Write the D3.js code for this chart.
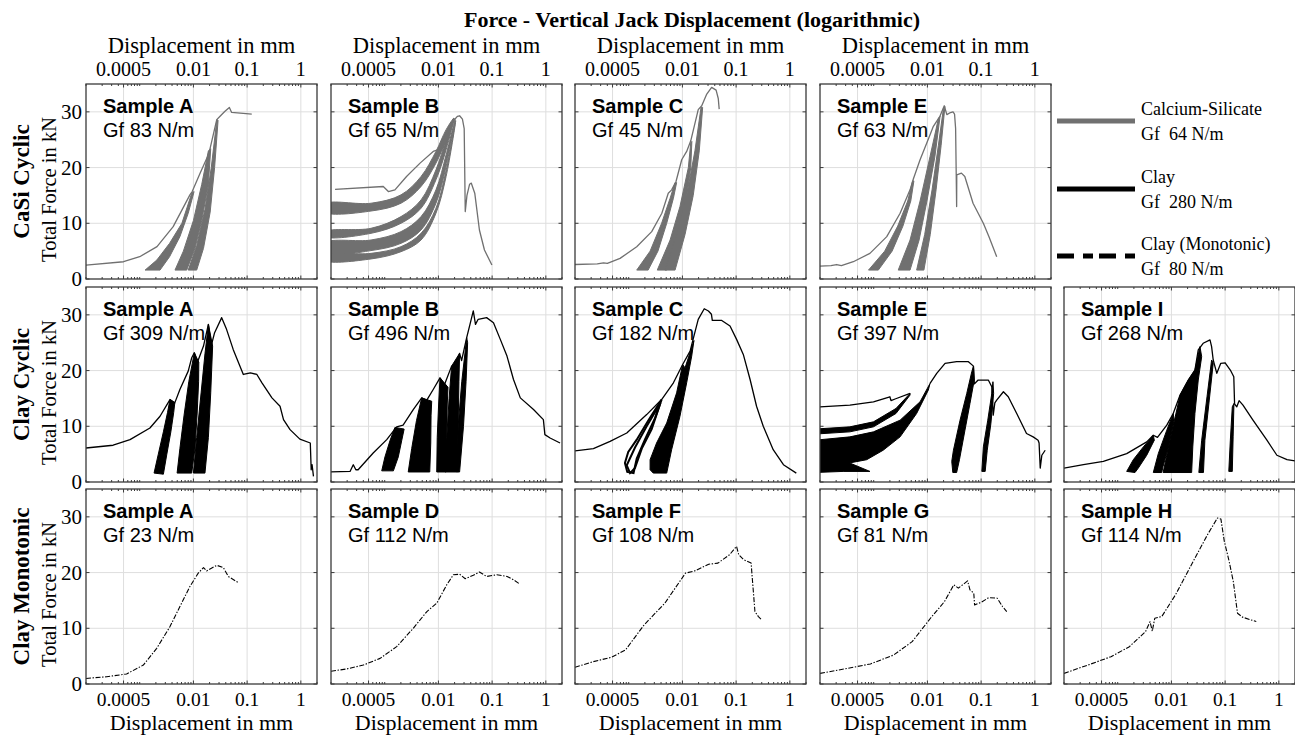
<!DOCTYPE html>
<html><head><meta charset="utf-8">
<script src="https://cdn.jsdelivr.net/npm/d3@7"></script>
<style>body{margin:0;background:#fff}svg{display:block}</style>
</head><body>
<svg id="c" width="1295" height="737"></svg>
<script>
// ---------- labels & ticks ----------
const title = "Force - Vertical Jack Displacement (logarithmic)";
const xTickValues = [0.0005, 0.01, 0.1, 1];
const xTickLabels = ["0.0005", "0.01", "0.1", "1"];
const yTickValues = [0, 10, 20, 30];
const rowLabels = ["CaSi Cyclic", "Clay Cyclic", "Clay Monotonic"];
const legendNames = ["Calcium-Silicate", "Clay", "Clay (Monotonic)"];
const legendGf = ["Gf  64 N/m", "Gf  280 N/m", "Gf  80 N/m"];

// ---------- CaSi cyclic ----------
const casiA_env = [[1e-4,2.5],[5e-4,3.1],[1e-3,4.0],[2.1e-3,5.8],[4.2e-3,9.4],[8.6e-3,15.1],[9.5e-3,15.7],[0.0133,19],[0.019,22.3],[0.0205,23.5],[0.0272,28.6],[0.032,29.3],[0.0387,30.1],[0.0467,30.8],[0.0515,29.9],[0.122,29.6]];
const casiA_bands = [
 [[0.00126,1.6],[0.00208,3.4],[0.0036,6.4],[0.0061,10],[0.0093,15.4],[0.0103,15.7],[0.008,11.8],[0.0056,7.6],[0.0036,4.0],[0.00239,1.6]],
 [[0.00454,1.6],[0.0065,5],[0.01,10.5],[0.0143,17],[0.019,23],[0.021,23.4],[0.019,17],[0.0143,10.5],[0.0107,5.5],[0.0075,1.6]],
 [[0.008,1.6],[0.0115,6],[0.0164,12.5],[0.0215,20],[0.0273,28.6],[0.0288,28.5],[0.0248,20],[0.0205,12],[0.0154,5.5],[0.0115,1.6]]
];
const casiB_env = [[1.19e-4,16.1],[9.4e-4,16.6],[1.17e-3,15.7],[1.55e-3,16],[2.55e-3,18.4],[4.55e-3,20.8],[8e-3,22.9],[0.01,23.2],[0.0107,22.7],[0.015,25.5],[0.0195,28.5],[0.0225,29.2],[0.0248,29.3],[0.028,28.7],[0.0302,27],[0.0316,12.1],[0.034,15],[0.038,17],[0.041,17.2],[0.0475,15.4],[0.058,8.8],[0.072,5.2],[0.099,2.5]];
const casiB_bands = [
 [[8e-5,12.0],[5.56e-4,12.2],[2.01e-3,13.6],[4.75e-3,16.6],[9.0e-3,20.8],[0.0139,25.0],[0.0195,28.9],[0.0139,26.8],[9.0e-3,22.9],[4.75e-3,18.4],[2.01e-3,15.1],[5.56e-4,13.6],[8e-5,13.5]],
 [[8e-5,7.6],[5.56e-4,8.2],[2.01e-3,10],[4.75e-3,12.7],[9.0e-3,17.8],[0.0139,23.2],[0.0195,28.8],[0.0139,25],[9.0e-3,19.6],[4.75e-3,14.2],[2.01e-3,11.2],[5.56e-4,9.1],[8e-5,8.5]],
 [[8e-5,4.6],[5.56e-4,5.1],[2.01e-3,6.4],[4.75e-3,8.8],[9.0e-3,13.6],[0.0139,20.2],[0.0205,28.6],[0.0139,22.3],[9.0e-3,16],[4.75e-3,11.2],[2.01e-3,8.5],[5.56e-4,7.0],[8e-5,6.5]],
 [[8e-5,3.3],[5.56e-4,3.6],[2.01e-3,4.9],[4.75e-3,7],[9.0e-3,11.8],[0.0139,18.4],[0.021,28.4],[0.0139,19.5],[9.0e-3,12.7],[4.75e-3,8.2],[2.01e-3,5.8],[5.56e-4,4.6],[8e-5,4.3]]
];
const casiC_env = [[1e-4,2.6],[2.6e-4,2.7],[3.4e-4,2.9],[4.0e-4,2.8],[6.9e-4,3.7],[1.41e-3,5.8],[2.68e-3,8.5],[4.14e-3,11.8],[5.45e-3,15.4],[6.3e-3,16],[7.6e-3,17.5],[9.7e-3,21.4],[0.012,22.9],[0.0143,24.8],[0.0197,30.4],[0.0229,31.1],[0.0284,33.2],[0.035,34.4],[0.0424,33.9],[0.0465,32.4],[0.0484,30.5]];
const casiC_bands = [
 [[1.41e-3,1.6],[2.5e-3,5],[4.1e-3,10],[5.9e-3,14.5],[7.3e-3,17.3],[7.8e-3,17.3],[6.8e-3,14.5],[5.1e-3,10],[3.5e-3,5],[2.3e-3,1.6]],
 [[3.4e-3,1.6],[5.9e-3,7],[9e-3,13],[0.0129,20],[0.0143,24.5],[0.015,24.7],[0.0143,20],[0.0112,13],[7.8e-3,7],[5.1e-3,1.6]],
 [[4.75e-3,1.6],[7.8e-3,8],[0.012,15],[0.0171,23],[0.0222,30.8],[0.0238,30.8],[0.0206,23],[0.0159,15],[0.0112,8],[7.3e-3,1.6]]
];
const casiE_env = [[1e-4,2.3],[1.6e-4,2.4],[2.04e-4,2.6],[2.5e-4,2.4],[4.17e-4,3.1],[8.5e-4,4.6],[1.75e-3,7.6],[3.1e-3,11.8],[4.75e-3,16],[5.45e-3,17.9],[7.3e-3,21.4],[0.0112,25.9],[0.0129,27.4],[0.0171,29.2],[0.0206,31.1],[0.023,29.5],[0.026,29.8],[0.030,30.0],[0.032,29.6],[0.0335,27],[0.035,13],[0.0352,18.7],[0.043,19],[0.0497,18.4],[0.0707,13.6],[0.11,10],[0.14,7.6],[0.195,4]];
const casiE_bands = [
 [[8.0e-4,1.6],[1.6e-3,5],[2.8e-3,9.5],[4.3e-3,14],[5.3e-3,17.6],[5.6e-3,17.6],[4.9e-3,14],[3.5e-3,9.5],[2.2e-3,5],[1.22e-3,1.6]],
 [[2.86e-3,1.6],[4.75e-3,7],[7.3e-3,14],[0.0112,22],[0.016,28.8],[0.0172,29.2],[0.0138,22],[9.8e-3,14],[7.0e-3,7],[4.75e-3,1.6]],
 [[6.3e-3,1.6],[8.9e-3,8],[0.0122,16],[0.016,24],[0.02,30.8],[0.0212,31],[0.018,24],[0.0145,16],[0.0113,8],[8.6e-3,1.6]]
];

// ---------- Clay cyclic ----------
const clayA_env = [[1e-4,6.1],[3.2e-4,6.6],[6.6e-4,7.6],[1.55e-3,9.7],[2.39e-3,11.8],[3.66e-3,14.8],[4.5e-3,14.2],[5.6e-3,16.6],[8e-3,19.9],[9.3e-3,22.3],[0.0104,23.2],[0.0118,21.4],[0.0154,24.4],[0.019,28.3],[0.0215,24.5],[0.0248,26.8],[0.0336,29.5],[0.0414,27.4],[0.055,23.8],[0.0733,20.8],[0.085,19.3],[0.115,19.6],[0.152,19.3],[0.189,17.8],[0.29,15.1],[0.41,13.6],[0.476,11.2],[0.63,9.4],[0.96,7.7],[1.5,7.0],[1.56,2.2],[1.62,3.1],[1.72,1.0]];
const clayA_bands = [
 [[1.85e-3,1.6],[2.22e-3,5],[2.76e-3,9],[3.3e-3,12.5],[3.66e-3,14.8],[4.5e-3,14.2],[4.3e-3,12.5],[3.8e-3,9],[3.2e-3,5],[2.76e-3,1.4]],
 [[4.97e-3,1.6],[5.6e-3,6],[6.7e-3,12],[8.2e-3,18],[0.0104,23.2],[0.0126,21.5],[0.0125,18],[0.0117,12],[0.0107,6],[9.3e-3,1.6]],
 [[0.01,1.6],[0.0115,8],[0.0139,16],[0.0164,23],[0.019,28.3],[0.0228,24.4],[0.021,16],[0.019,8],[0.0164,1.6]]
];
const clayB_env = [[1e-4,1.8],[2.26e-4,1.9],[2.6e-4,3.1],[2.9e-4,2.2],[3.2e-4,2.2],[6.1e-4,5.2],[1.09e-3,7.6],[1.67e-3,9.9],[2.2e-3,10.2],[3.4e-3,13],[4.88e-3,15.1],[6.0e-3,14.6],[8e-3,16.6],[0.0107,18.7],[0.013,17.5],[0.0176,20.8],[0.02,20],[0.0248,23.1],[0.027,21.8],[0.0336,25.9],[0.0387,28.3],[0.0446,30.7],[0.049,28.3],[0.055,29.2],[0.079,29.5],[0.106,28.6],[0.142,25.6],[0.189,22.6],[0.25,18.4],[0.335,15.1],[0.59,13],[0.9,11.2],[0.96,8.5],[1.2,7.9],[1.84,7.0]];
const clayB_bands = [
 [[8.8e-4,2.0],[1.01e-3,4.5],[1.26e-3,7.5],[1.55e-3,9.8],[2.3e-3,9.5],[2.08e-3,7.5],[1.79e-3,4.5],[1.45e-3,2.0]],
 [[2.74e-3,1.8],[3.18e-3,6],[3.9e-3,11],[4.88e-3,15.1],[7.5e-3,14.5],[7.3e-3,12],[7.2e-3,7],[6.9e-3,1.8]],
 [[9.3e-3,1.8],[9.5e-3,8],[0.0101,14],[0.0107,18.7],[0.0151,17],[0.0146,14],[0.0143,8],[0.0139,1.8]],
 [[0.0134,1.8],[0.0143,8],[0.0158,15],[0.0176,20.8],[0.0248,23.1],[0.0241,18],[0.0233,10],[0.0224,1.8]],
 [[0.022,1.8],[0.0233,10],[0.0272,18],[0.0336,25.9],[0.035,25],[0.0327,18],[0.0293,10],[0.0248,1.8]]
];
const clayC_env = [[1e-4,5.6],[2.2e-4,6.0],[4.5e-4,7.3],[9.2e-4,8.8],[2.16e-3,12.1],[4.1e-3,14.8],[6.8e-3,17.8],[0.0101,21.1],[0.0139,23.5],[0.0158,25.6],[0.0197,29.2],[0.0255,31.1],[0.0305,30.7],[0.0347,30.1],[0.036,29],[0.054,29],[0.077,28],[0.102,25.6],[0.136,22.9],[0.182,18.4],[0.24,13.6],[0.32,10],[0.49,5.8],[0.76,3.1],[1.32,1.6]];
const clayC_loops = [
 [[8.5e-4,3.4],[9.8e-4,5.4],[1.41e-3,7.6],[2.3e-3,11],[4.1e-3,14.8],[3.1e-3,11.5],[2.0e-3,7.6],[1.41e-3,4.2],[1.23e-3,1.6],[9.4e-4,1.8]],
 [[9.2e-4,3.0],[1.31e-3,6.2],[2.16e-3,10],[3.9e-3,14.2],[2.68e-3,9.5],[1.75e-3,6],[1.31e-3,2.5],[1.06e-3,1.6]]
];
const clayC_bands = [
 [[2.5e-3,4],[2.5e-3,2.2],[2.86e-3,1.6],[5.1e-3,1.6],[6.3e-3,5.8],[9.0e-3,11.8],[0.012,17.8],[0.0149,22.6],[0.0164,25.4],[0.0112,20.5],[0.0101,21.1],[7.8e-3,16],[5.1e-3,10.6],[3.3e-3,7]]
];
const clayE_env = [[1e-4,13.5],[3.6e-4,13.8],[9.9e-4,14.4],[2.0e-3,15.3],[2.1e-3,14.6],[2.5e-3,14.9],[4.75e-3,15.9]];
const clayE_env2 = [[0.0112,17.7],[0.0149,19.5],[0.0213,21.3],[0.035,21.6],[0.058,21.6],[0.072,20.8],[0.0745,17.6],[0.088,18.3],[0.136,18.3],[0.158,17.1],[0.168,12],[0.18,14.2],[0.195,14.7],[0.26,16.2],[0.32,15.3],[0.46,12.3],[0.7,8.7],[0.93,8.1],[1.15,7.5],[1.2,7],[1.26,2.5],[1.35,4.8],[1.56,5.7]];
const clayE_bands = [
 [[8e-5,8.6],[3.6e-4,9.0],[9.9e-4,9.9],[2.6e-3,12.3],[4.75e-3,15.6],[4.75e-3,15.9],[2.6e-3,13.2],[9.9e-4,10.8],[3.6e-4,9.9],[8e-5,9.5]],
 [[8e-5,7.5],[3.6e-4,8.1],[9.9e-4,9.0],[3.1e-3,11.1],[7.3e-3,14.4],[0.0112,17.7],[0.0104,16.5],[6.3e-3,12.3],[3.1e-3,8.1],[1.5e-3,5.7],[7.4e-4,4.0],[2.36e-4,3.1],[8e-5,2.8]],
 [[8e-5,3.6],[3.6e-4,3.4],[8.5e-4,1.9],[2.7e-4,1.9],[8e-5,1.7]],
 [[0.0297,1.7],[0.0284,3.7],[0.0305,5.7],[0.0405,11.1],[0.054,15.9],[0.067,19.8],[0.072,20.8],[0.0745,18.3],[0.062,14.1],[0.05,9.3],[0.0395,4.0],[0.035,1.7]],
 [[0.103,1.9],[0.11,6.3],[0.133,11.1],[0.158,15.9],[0.166,18],[0.171,15.9],[0.152,10.5],[0.13,5.7],[0.119,1.9]]
];
const clayI_env = [[1e-4,2.5],[2.3e-4,3.1],[5.4e-4,3.7],[1.47e-3,5.1],[3.47e-3,7.2],[4.6e-3,8.4],[5.5e-3,8.0],[8.2e-3,10.2],[0.0108,12.3],[0.0145,15.6],[0.0206,18.3],[0.0274,20.1],[0.0316,23.7],[0.039,24.9],[0.0523,25.5],[0.056,24.3],[0.06,21.9],[0.07,19.5],[0.083,21.3],[0.1,21.4],[0.125,20.1],[0.145,18.9],[0.15,14],[0.165,13.5],[0.182,14.6],[0.215,13.8],[0.33,11.1],[0.6,7.5],[0.92,4.8],[1.42,4.0],[2,3.8]];
const clayI_bands = [
 [[1.47e-3,1.9],[1.95e-3,4.0],[3.0e-3,6.3],[4.6e-3,8.4],[4.8e-3,7.5],[3.47e-3,4.8],[2.42e-3,2.5],[2.1e-3,1.7]],
 [[4.6e-3,1.7],[5.7e-3,5.1],[8.2e-3,9.3],[0.0108,12.3],[0.0112,11.1],[8.8e-3,6.3],[7.0e-3,2.8],[6.6e-3,1.7]],
 [[7.0e-3,1.7],[9.4e-3,7.5],[0.0145,15.6],[0.0206,18.3],[0.0274,20.1],[0.034,24.3],[0.0366,22.5],[0.0316,18.3],[0.0274,12.3],[0.025,6.3],[0.0238,1.7]],
 [[0.0324,1.7],[0.0366,7.5],[0.046,15.3],[0.056,21.9],[0.06,21.3],[0.0507,14.7],[0.042,7.5],[0.0395,1.7]],
 [[0.117,1.9],[0.125,7.5],[0.136,13.5],[0.146,14.1],[0.141,8.1],[0.136,1.9]]
];

// ---------- Clay monotonic ----------
const monoA = [[1e-4,1.0],[2.43e-4,1.3],[5.7e-4,1.8],[1.17e-3,3.4],[2.07e-3,6.4],[3.66e-3,10.3],[5.6e-3,13.9],[8.6e-3,17.5],[0.0123,19.9],[0.0154,20.9],[0.0176,20.3],[0.0273,21.3],[0.036,20.9],[0.0446,19.3],[0.0686,18.2]];
const monoD = [[1e-4,2.3],[1.96e-4,2.7],[4.0e-4,3.4],[8.2e-4,4.6],[1.67e-3,6.7],[3.4e-3,10.0],[6.1e-3,13.0],[9.3e-3,14.5],[0.0143,17.8],[0.019,19.6],[0.0248,19.7],[0.0316,18.9],[0.0446,19.5],[0.058,20.1],[0.079,19.3],[0.122,19.6],[0.19,19.3],[0.25,18.7],[0.32,18.0]];
const monoF = [[1.0e-4,3.0],[2.17e-4,4.0],[4.8e-4,4.8],[8.7e-4,6.1],[1.93e-3,10.6],[4.7e-3,14.5],[0.0114,19.9],[0.017,20.3],[0.0309,21.5],[0.0459,21.7],[0.0755,23.2],[0.1017,24.7],[0.112,23.2],[0.138,22.3],[0.19,21.7],[0.224,13.0],[0.26,12.1],[0.3,11.5]];
const monoG = [[1e-4,1.9],[3.24e-4,2.8],[8.7e-4,3.6],[2.35e-3,5.2],[5.2e-3,7.6],[0.0114,11.8],[0.0208,14.8],[0.031,17.8],[0.0377,17.2],[0.056,18.5],[0.062,16.9],[0.073,16.3],[0.0755,14.2],[0.102,14.7],[0.138,15.5],[0.2,15.4],[0.25,13.9],[0.3,13.0]];
const monoH = [[1.0e-4,1.9],[2.78e-4,3.4],[7.5e-4,4.9],[1.65e-3,6.7],[3.3e-3,9.4],[4.0e-3,11.2],[4.4e-3,9.5],[4.9e-3,11.8],[6.6e-3,12.1],[0.0119,16.0],[0.0264,22.3],[0.047,26.8],[0.072,29.8],[0.0835,29.6],[0.0966,25.6],[0.117,22.3],[0.142,18.4],[0.17,12.7],[0.21,12.0],[0.38,11.2]];

// ---------- panel table ----------
const panels = [
 {row:0,col:0,name:"Sample A",gf:"Gf 83 N/m",kind:"casi",lines:[casiA_env],bands:casiA_bands},
 {row:0,col:1,name:"Sample B",gf:"Gf 65 N/m",kind:"casi",lines:[casiB_env],bands:casiB_bands,smooth:true},
 {row:0,col:2,name:"Sample C",gf:"Gf 45 N/m",kind:"casi",lines:[casiC_env],bands:casiC_bands},
 {row:0,col:3,name:"Sample E",gf:"Gf 63 N/m",kind:"casi",lines:[casiE_env],bands:casiE_bands},
 {row:1,col:0,name:"Sample A",gf:"Gf 309 N/m",kind:"clay",lines:[clayA_env],bands:clayA_bands},
 {row:1,col:1,name:"Sample B",gf:"Gf 496 N/m",kind:"clay",lines:[clayB_env],bands:clayB_bands},
 {row:1,col:2,name:"Sample C",gf:"Gf 182 N/m",kind:"clay",lines:[clayC_env],bands:clayC_bands,loops:clayC_loops},
 {row:1,col:3,name:"Sample E",gf:"Gf 397 N/m",kind:"clay",lines:[clayE_env,clayE_env2],bands:clayE_bands},
 {row:1,col:4,name:"Sample I",gf:"Gf 268 N/m",kind:"clay",lines:[clayI_env],bands:clayI_bands},
 {row:2,col:0,name:"Sample A",gf:"Gf 23 N/m",kind:"mono",lines:[monoA],bands:[]},
 {row:2,col:1,name:"Sample D",gf:"Gf 112 N/m",kind:"mono",lines:[monoD],bands:[]},
 {row:2,col:2,name:"Sample F",gf:"Gf 108 N/m",kind:"mono",lines:[monoF],bands:[]},
 {row:2,col:3,name:"Sample G",gf:"Gf 81 N/m",kind:"mono",lines:[monoG],bands:[]},
 {row:2,col:4,name:"Sample H",gf:"Gf 114 N/m",kind:"mono",lines:[monoH],bands:[]}
];

// ---------- layout ----------
const colLeft = [86, 331, 575, 820, 1064];
const rowTop = [84, 287, 489];
const PW = 231, PH = 195;
const GREY = "#707070";
const SERIF = "'Liberation Serif','Times New Roman',serif";
const SANS = "'Liberation Sans',Arial,sans-serif";
const DASH = "5,1.6,1.4,1.6";

const svg = d3.select("#c");
const x = d3.scaleLog().domain([1e-4, 2]).range([0, PW]);
const y = d3.scaleLinear().domain([0, 35]).range([PH, 0]);
const line = d3.line().x(d => x(d[0])).y(d => y(d[1]));
const smoothLine = d3.line().x(d => x(d[0])).y(d => y(d[1])).curve(d3.curveCatmullRomClosed.alpha(0.5));
const minorX = x.ticks().filter(v => !xTickValues.some(t => Math.abs(t - v) / t < 1e-6));

svg.append("text").attr("x", 692).attr("y", 27).attr("text-anchor", "middle")
  .attr("font-family", SERIF).attr("font-weight", "bold").attr("font-size", 22).text(title);

panels.forEach((p, i) => {
  const g = svg.append("g").attr("transform", `translate(${colLeft[p.col]},${rowTop[p.row]})`);
  const cid = "clip" + i;
  g.append("clipPath").attr("id", cid).append("rect").attr("width", PW).attr("height", PH);
  // grid
  g.selectAll(".gx").data(xTickValues).join("line").attr("x1", d => x(d)).attr("x2", d => x(d))
    .attr("y1", 0).attr("y2", PH).attr("stroke", "#dedede").attr("stroke-width", 1);
  g.selectAll(".gy").data(yTickValues.slice(1)).join("line").attr("x1", 0).attr("x2", PW)
    .attr("y1", d => y(d)).attr("y2", d => y(d)).attr("stroke", "#dedede").attr("stroke-width", 1);
  const col = p.kind === "casi" ? GREY : "#000";
  const data = g.append("g").attr("clip-path", `url(#${cid})`);
  data.selectAll(".band").data(p.bands).join("path").attr("d", d => p.smooth ? smoothLine(d) : line(d) + "Z")
    .attr("fill", col).attr("stroke", col).attr("stroke-width", 1).attr("stroke-linejoin", "round");
  if (p.loops) data.selectAll(".loop").data(p.loops).join("path").attr("d", d => line(d) + "Z")
    .attr("fill", "none").attr("stroke", "#000").attr("stroke-width", 2);
  data.selectAll(".ln").data(p.lines).join("path").attr("d", line).attr("fill", "none")
    .attr("stroke", col).attr("stroke-width", p.kind === "mono" ? 1.1 : 1.3)
    .attr("stroke-dasharray", p.kind === "mono" ? DASH : null).attr("stroke-linejoin", "round");
  // frame & ticks
  g.append("rect").attr("width", PW).attr("height", PH).attr("fill", "none").attr("stroke", "#3a3a3a").attr("stroke-width", 1.3);
  const tk = g.append("g").attr("stroke", "#3a3a3a").attr("stroke-width", 1);
  xTickValues.forEach(v => {
    tk.append("line").attr("x1", x(v)).attr("x2", x(v)).attr("y1", 0).attr("y2", 3.5);
    tk.append("line").attr("x1", x(v)).attr("x2", x(v)).attr("y1", PH).attr("y2", PH - 3.5);
  });
  minorX.forEach(v => {
    tk.append("line").attr("x1", x(v)).attr("x2", x(v)).attr("y1", 0).attr("y2", 2);
    tk.append("line").attr("x1", x(v)).attr("x2", x(v)).attr("y1", PH).attr("y2", PH - 2);
  });
  yTickValues.forEach(v => {
    tk.append("line").attr("x1", 0).attr("x2", 3.5).attr("y1", y(v)).attr("y2", y(v));
    tk.append("line").attr("x1", PW).attr("x2", PW - 3.5).attr("y1", y(v)).attr("y2", y(v));
  });
  // sample text
  g.append("text").attr("x", 17).attr("y", 29).attr("font-family", SANS).attr("font-weight", "bold")
    .attr("font-size", 20).text(p.name);
  g.append("text").attr("x", 17).attr("y", 53).attr("font-family", SANS).attr("font-size", 20).text(p.gf);
  // y tick labels
  if (p.col === 0) {
    g.selectAll(".yl").data(yTickValues).join("text").attr("x", -4).attr("y", d => y(d) + 7)
      .attr("text-anchor", "end").attr("font-family", SERIF).attr("font-size", 21).text(d => d);
  }
  // top axis labels
  if (p.row === 0) {
    g.selectAll(".xl").data(xTickValues).join("text").attr("x", d => x(d)).attr("y", -8)
      .attr("text-anchor", "middle").attr("font-family", SERIF).attr("font-size", 20).text((d, j) => xTickLabels[j]);
    g.append("text").attr("x", PW / 2).attr("y", -31).attr("text-anchor", "middle")
      .attr("font-family", SERIF).attr("font-size", 22.5).text("Displacement in mm");
  }
  if (p.row === 2) {
    g.selectAll(".xl").data(xTickValues).join("text").attr("x", d => x(d)).attr("y", PH + 22)
      .attr("text-anchor", "middle").attr("font-family", SERIF).attr("font-size", 19.5).text((d, j) => xTickLabels[j]);
    g.append("text").attr("x", PW / 2).attr("y", PH + 46).attr("text-anchor", "middle")
      .attr("font-family", SERIF).attr("font-size", 22).text("Displacement in mm");
  }
});

// row labels
rowLabels.forEach((r, i) => {
  const cy = rowTop[i] + PH / 2;
  svg.append("text").attr("transform", `translate(29,${cy}) rotate(-90)`).attr("text-anchor", "middle")
    .attr("font-family", SERIF).attr("font-weight", "bold").attr("font-size", 23).text(r);
  svg.append("text").attr("transform", `translate(56,${cy + 8}) rotate(-90)`).attr("text-anchor", "middle")
    .attr("font-family", SERIF).attr("font-size", 20.5).text("Total Force in kN");
});

// legend
const legY = [121, 189, 256];
const legStyle = [{c: GREY, d: null}, {c: "#000", d: null}, {c: "#000", d: "17,9,10,6"}];
legendNames.forEach((n, i) => {
  svg.append("line").attr("x1", 1057).attr("x2", 1135).attr("y1", legY[i]).attr("y2", legY[i])
    .attr("stroke", legStyle[i].c).attr("stroke-width", 5).attr("stroke-dasharray", legStyle[i].d);
  svg.append("text").attr("x", 1141).attr("y", legY[i] - 6).attr("font-family", SERIF).attr("font-size", 18).text(n);
  svg.append("text").attr("x", 1141).attr("y", legY[i] + 19).attr("font-family", SERIF).attr("font-size", 18)
    .attr("xml:space", "preserve").style("white-space", "pre").text(legendGf[i]);
});
</script>
</body></html>
